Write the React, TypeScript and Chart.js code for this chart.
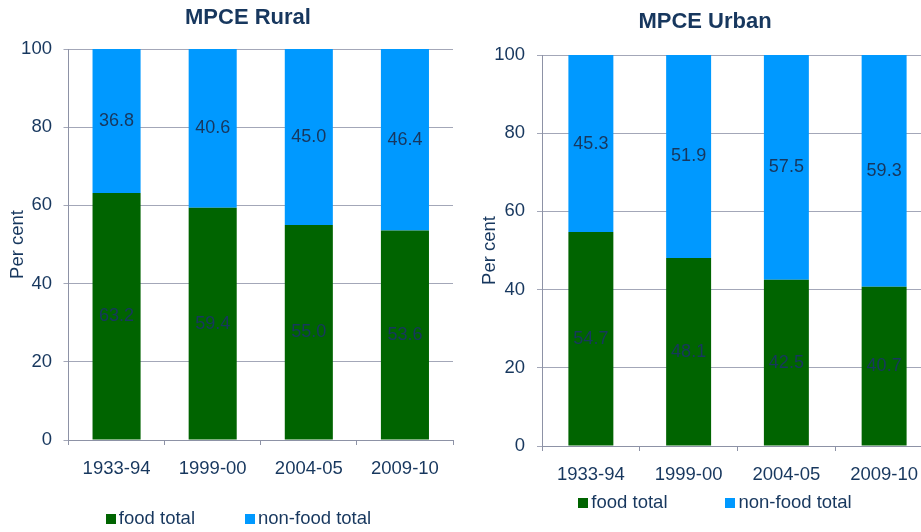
import React, { useEffect, useRef } from "react";
import { Chart, registerables } from "chart.js";

Chart.register(...registerables);

const categories = ["1933-94", "1999-00", "2004-05", "2009-10"];
const ruralFood = [63.2, 59.4, 55.0, 53.6];
const ruralNonFood = [36.8, 40.6, 45.0, 46.4];
const urbanFood = [54.7, 48.1, 42.5, 40.7];
const urbanNonFood = [45.3, 51.9, 57.5, 59.3];
const yTicks = [0, 20, 40, 60, 80, 100];
const seriesNames = ["food total", "non-food total"];

const FONT = "Arial, 'Liberation Sans', sans-serif";
const TEXT = "#17375e";
const GREEN = "#006400";
const BLUE = "#0099ff";
const AXIS = "#8d92a6";
const GRID = "#a3a7b8";

const valueLabels = {
  id: "valueLabels",
  afterDatasetsDraw(chart: any) {
    const ctx = chart.ctx;
    ctx.save();
    ctx.font = `18px ${FONT}`;
    ctx.fillStyle = TEXT;
    ctx.textAlign = "center";
    ctx.textBaseline = "middle";
    chart.data.datasets.forEach((ds: any, i: number) => {
      const meta = chart.getDatasetMeta(i);
      meta.data.forEach((bar: any, j: number) => {
        const p = bar.getProps(["x", "y", "base"], true);
        ctx.fillText(Number(ds.data[j]).toFixed(1), p.x, (p.y + p.base) / 2);
      });
    });
    ctx.restore();
  },
};

// Legend drawn with Chart.js dataset labels/colours, with the reference's spacing
const bottomLegend = {
  id: "bottomLegend",
  afterDraw(chart: any, _args: any, opts: any) {
    const ctx = chart.ctx;
    ctx.save();
    ctx.font = `18.5px ${FONT}`;
    ctx.textBaseline = "middle";
    ctx.textAlign = "left";
    const box = 10;
    const gapText = 3;
    const items = chart.data.datasets.map((ds: any) => ({
      text: ds.label,
      color: ds.backgroundColor,
      w: ctx.measureText(ds.label).width,
    }));
    const total =
      items.reduce((a: number, it: any) => a + box + gapText + it.w, 0) +
      opts.gap * (items.length - 1);
    let x = opts.centerX - total / 2;
    const y = opts.centerY;
    items.forEach((it: any) => {
      ctx.fillStyle = it.color;
      ctx.fillRect(Math.round(x), Math.round(y - box / 2), box, box);
      ctx.fillStyle = TEXT;
      ctx.fillText(it.text, x + box + gapText, y);
      x += box + gapText + it.w + opts.gap;
    });
    ctx.restore();
  },
};

type Params = {
  title: string;
  food: number[];
  nonFood: number[];
  layout: { left: number; right: number; top: number; bottom: number };
  yWidth: number;
  yTitlePad: number;
  yTickPad: number;
  yMirror: boolean;
  titlePad: { top: number; bottom: number };
  xHeight: number;
  xTickPad: number;
  legendCenterX: number;
  legendCenterY: number;
  legendGap: number;
  barPct: number;
};

function makeConfig(p: Params): any {
  return {
    type: "bar",
    data: {
      labels: categories,
      datasets: [
        {
          label: seriesNames[0],
          data: p.food,
          backgroundColor: GREEN,
          borderWidth: 0,
          barPercentage: p.barPct,
          categoryPercentage: 1,
        },
        {
          label: seriesNames[1],
          data: p.nonFood,
          backgroundColor: BLUE,
          borderWidth: 0,
          barPercentage: p.barPct,
          categoryPercentage: 1,
        },
      ],
    },
    options: {
      responsive: false,
      animation: false,
      devicePixelRatio: 1,
      layout: { padding: p.layout },
      plugins: {
        title: {
          display: true,
          text: p.title,
          color: TEXT,
          font: { family: FONT, size: 22, weight: "bold" },
          padding: p.titlePad,
        },
        legend: { display: false },
        tooltip: { enabled: false },
        bottomLegend: {
          centerX: p.legendCenterX,
          centerY: p.legendCenterY,
          gap: p.legendGap,
        },
      },
      scales: {
        x: {
          stacked: true,
          grid: {
            drawOnChartArea: false,
            drawTicks: true,
            tickLength: 5,
            color: AXIS,
          },
          border: { color: AXIS },
          ticks: {
            color: TEXT,
            padding: p.xTickPad,
            font: { family: FONT, size: 18.5 },
            maxRotation: 0,
          },
          afterFit: (s: any) => {
            s.height = p.xHeight;
          },
        },
        y: {
          stacked: true,
          min: 0,
          max: 100,
          grid: { color: GRID, tickLength: 5 },
          border: { color: AXIS },
          ticks: {
            color: TEXT,
            padding: p.yTickPad,
            mirror: p.yMirror,
            crossAlign: p.yMirror ? "far" : "near",
            font: { family: FONT, size: 18.5 },
          },
          afterBuildTicks: (s: any) => {
            s.ticks = yTicks.map((v) => ({ value: v }));
          },
          title: {
            display: true,
            text: "Per cent",
            color: TEXT,
            font: { family: FONT, size: 18.5 },
            padding: { top: p.yTitlePad, bottom: 0 },
          },
          afterFit: (s: any) => {
            s.width = p.yWidth;
          },
        },
      },
    },
    plugins: [valueLabels, bottomLegend],
  };
}

const ruralParams: Params = {
  title: "MPCE Rural",
  food: ruralFood,
  nonFood: ruralNonFood,
  layout: { left: 43, right: 17, top: 0, bottom: 0 },
  yWidth: 25.5,
  yTitlePad: -36.6,
  yTickPad: -47.4,
  yMirror: true,
  titlePad: { top: 4.8, bottom: 17.8 },
  xHeight: 92,
  xTickPad: 13,
  legendCenterX: 238.5,
  legendCenterY: 518.5,
  legendGap: 50,
  barPct: 0.5,
};

const urbanParams: Params = {
  title: "MPCE Urban",
  food: urbanFood,
  nonFood: urbanNonFood,
  layout: { left: 7, right: 7, top: 0, bottom: 0 },
  yWidth: 65,
  yTitlePad: 1.9,
  yTickPad: 12,
  yMirror: false,
  titlePad: { top: 8.8, bottom: 19.8 },
  xHeight: 86,
  xTickPad: 13,
  legendCenterX: 245,
  legendCenterY: 503,
  legendGap: 58,
  barPct: 0.46,
};

function ChartCanvas({ params, left, width, height }: { params: Params; left: number; width: number; height: number }) {
  const ref = useRef<HTMLCanvasElement | null>(null);
  useEffect(() => {
    if (!ref.current) return;
    const chart = new Chart(ref.current, makeConfig(params));
    return () => chart.destroy();
  }, [params]);
  return (
    <canvas
      ref={ref}
      width={width}
      height={height}
      style={{ position: "absolute", left, top: 0, width, height }}
    />
  );
}

export default function App() {
  return (
    <div
      style={{
        position: "absolute",
        left: 0,
        top: 0,
        width: 921,
        height: 532,
        overflow: "hidden",
        background: "#ffffff",
      }}
    >
      <ChartCanvas params={ruralParams} left={0} width={470} height={532} />
      <ChartCanvas params={urbanParams} left={470} width={470} height={532} />
    </div>
  );
}
